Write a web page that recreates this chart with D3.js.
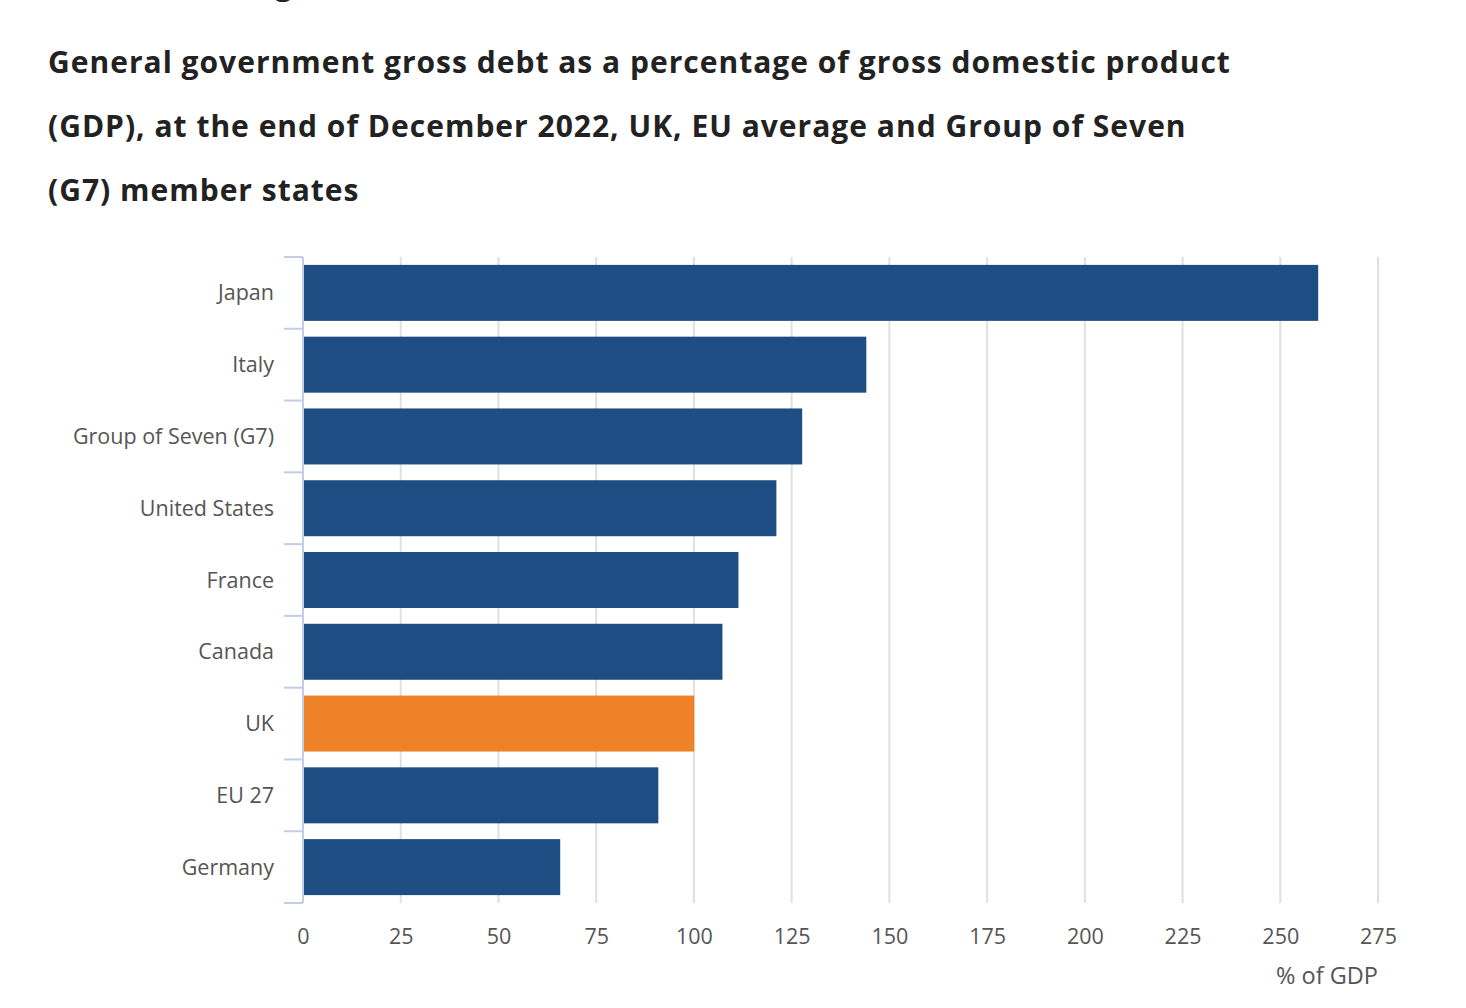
<!DOCTYPE html>
<html>
<head>
<meta charset="utf-8">
<script src="https://cdn.jsdelivr.net/npm/d3@7"></script>
<style>
    body { margin: 0; background: #fff; font-family: "Open Sans", sans-serif; }
    svg { display: block; }
</style>
</head>
<body>
<div id="container"></div>
<script>
"use strict"

const categories = ["Japan", "Italy", "Group of Seven (G7)", "United States",
    "France", "Canada", "UK", "EU 27", "Germany"];
const debtValues = [259.7, 144.1, 127.7, 121.1, 111.4, 107.3, 100.1, 90.9, 65.8];
const xTicks = [0, 25, 50, 75, 100, 125, 150, 175, 200, 225, 250, 275];
const highlight = "UK";

const headingText = "UK debt is among the lowest in the G7";
const titleLines = [
    "General government gross debt as a percentage of gross domestic product",
    "(GDP), at the end of December 2022, UK, EU average and Group of Seven",
    "(G7) member states"
];
const axisTitle = "% of GDP";

const $ = document.getElementById.bind(document);

function setup() {
    const width = 1466, height = 1008;
    const margin = { left: 303, right: 88, top: 257, bottom: 105 };

    const svg = d3.select($("container")).append("svg")
        .attr("width", width)
        .attr("height", height);

    // heading above the title, mostly cut off by the top edge
    const heading = svg.append("text")
        .attr("x", 48).attr("y", -5)
        .style("font-size", "30px").style("font-weight", 700)
        .style("letter-spacing", "0.9px")
        .style("fill", "#222")
        .text(headingText);
    const gPos = heading.node().getStartPositionOfChar(headingText.indexOf("g")).x;
    heading.attr("x", 48 + 275 - gPos);

    svg.append("g").selectAll("text")
        .data(titleLines)
        .enter().append("text")
        .attr("x", 48)
        .attr("y", (d, i) => 73 + i * 64)
        .style("font-size", "30px").style("font-weight", 700)
        .style("letter-spacing", "1px")
        .style("fill", "#222")
        .text((d) => d);

    const x = d3.scaleLinear()
        .domain([0, 275])
        .range([margin.left, width - margin.right]);

    const y = d3.scaleBand()
        .domain(categories)
        .range([margin.top, height - margin.bottom])
        .paddingInner(0.22)
        .paddingOuter(0.11);

    const bottom = height - margin.bottom;

    // gridlines
    svg.append("g").selectAll("line")
        .data(xTicks.slice(1))
        .enter().append("line")
        .attr("x1", (d) => x(d)).attr("x2", (d) => x(d))
        .attr("y1", margin.top).attr("y2", bottom)
        .style("stroke", "#e0e0e0")
        .style("stroke-width", 2);

    // bars
    svg.append("g").selectAll("rect")
        .data(categories)
        .enter().append("rect")
        .attr("x", x(0) + 1)
        .attr("y", (d) => y(d))
        .attr("width", (d, i) => x(debtValues[i]) - x(0) - 1)
        .attr("height", y.bandwidth())
        .style("fill", (d) => d == highlight ? "#ee8229" : "#1d4d82");

    // y axis with ticks on band boundaries
    const boundaries = d3.range(categories.length + 1).map((i) => margin.top + i * y.step());
    const yAxis = svg.append("g");
    yAxis.append("line")
        .attr("x1", x(0)).attr("x2", x(0))
        .attr("y1", margin.top).attr("y2", bottom)
        .style("stroke", "#c3cde6").style("stroke-width", 2);
    yAxis.selectAll(".tick")
        .data(boundaries)
        .enter().append("line")
        .attr("x1", x(0) - 19).attr("x2", x(0))
        .attr("y1", (d) => d).attr("y2", (d) => d)
        .style("stroke", "#c3cde6").style("stroke-width", 2);

    svg.append("g").selectAll("text")
        .data(categories)
        .enter().append("text")
        .attr("x", x(0) - 29)
        .attr("y", (d) => y(d) + y.bandwidth() / 2)
        .attr("dy", "0.35em")
        .attr("text-anchor", "end")
        .style("font-size", "21.5px")
        .style("fill", "#555")
        .text((d) => d);

    // x axis labels
    const xAxis = svg.append("g")
        .attr("transform", `translate(0,${bottom + 33})`)
        .call(d3.axisBottom(x).tickValues(xTicks).tickSize(0).tickPadding(0));
    xAxis.select(".domain").remove();
    xAxis.selectAll("text")
        .attr("dy", "0.35em")
        .style("font-family", "Open Sans")
        .style("font-size", "21.5px")
        .style("fill", "#555");

    svg.append("text")
        .attr("x", x(275))
        .attr("y", bottom + 73)
        .attr("dy", "0.35em")
        .attr("text-anchor", "end")
        .style("font-size", "23.5px")
        .style("fill", "#555")
        .text(axisTitle);
}

window.addEventListener("DOMContentLoaded", setup);
</script>
</body>
</html>
